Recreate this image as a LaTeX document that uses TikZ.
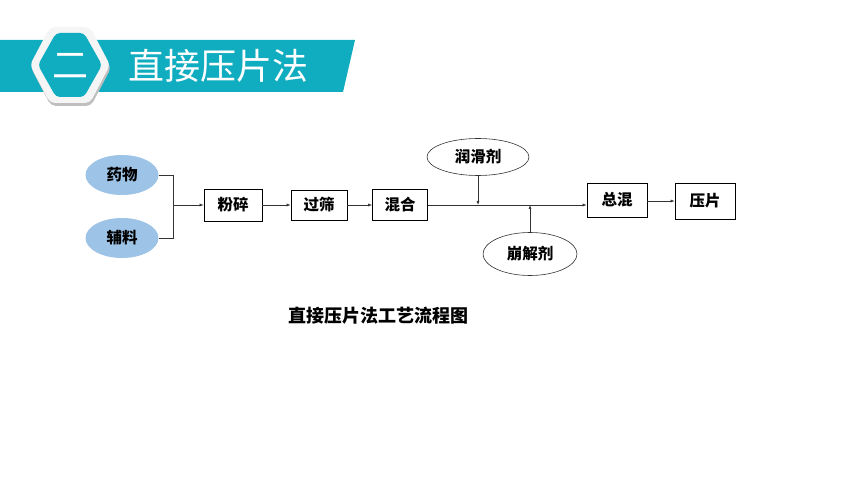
\documentclass[tikz,border=0pt]{standalone}
\usepackage{fontspec}
\usepackage{xcolor}
\usetikzlibrary{shapes.geometric,arrows.meta,positioning}
\newfontfamily\cjk{Noto Sans CJK SC}
\definecolor{teal1}{RGB}{16,172,192}
\definecolor{ovalblue}{RGB}{157,195,230}

\begin{document}
\begin{tikzpicture}[x=1pt,y=-1pt,
  box/.style={draw=black, line width=0.7pt, minimum width=58pt, minimum height=32pt, font=\cjk\bfseries\fontsize{15.5}{15.5}\selectfont},
  oval/.style={ellipse, fill=ovalblue, minimum width=73pt, minimum height=40pt, font=\cjk\bfseries\fontsize{15.5}{15.5}\selectfont},
  wov/.style={ellipse, draw=black!80, line width=0.6pt, fill=white, font=\cjk\bfseries\fontsize{15.5}{15.5}\selectfont},
  arr/.style={-{Latex[length=4pt,width=3pt]}, line width=0.6pt, draw=black!80}]
  \useasboundingbox (0,0) rectangle (860,484);
  \fill[white] (0,0) rectangle (860,484);

  % Header band and hexagon
  \fill[teal1] (0,40) -- (355,40) -- (343,92) -- (0,92) -- cycle;
  \fill[black!25, rounded corners=5pt] (31,68) -- (51,30) -- (91,30) -- (111,68) -- (91,106) -- (51,106) -- cycle;
  \fill[black!4, rounded corners=5pt] (30,65) -- (50,27) -- (90,27) -- (110,65) -- (90,103) -- (50,103) -- cycle;
  \fill[teal1, rounded corners=4pt] (38,65) -- (56,33) -- (84,33) -- (102,65) -- (84,97) -- (56,97) -- cycle;
  \node[text=white, font=\cjk\fontsize{36}{36}\selectfont] (num) at (70,66) {二};
  \node[text=white, font=\cjk\fontsize{36}{36}\selectfont, anchor=west] (title) at (125,66) {直接压片法};

  % Flow chart
  \node[oval] (drug) at (122,175) {药物};
  \node[oval] (excip) at (122,238) {辅料};
  \node[box] (crush) at (233,205) {粉碎};
  \node[box, minimum width=56pt, minimum height=30pt] (sieve) at (319,205) {过筛};
  \node[box, minimum width=55pt, minimum height=31pt] (mix) at (400,205) {混合};
  \node[box, minimum width=60pt, minimum height=34pt] (total) at (617,200) {总混};
  \node[box, minimum width=60pt, minimum height=36pt] (press) at (705,201) {压片};
  \node[wov, minimum width=102pt, minimum height=37pt] (lube) at (478,157) {润滑剂};
  \node[wov, minimum width=94pt, minimum height=43pt] (disint) at (530,254) {崩解剂};

  % Bracket joining the two inputs
  \coordinate (jn) at (173,205);
  \draw[line width=0.6pt, draw=black!80] (drug.east) -- (drug.east -| jn) -- (excip.east -| jn) -- (excip.east);
  \draw[arr] (jn) -- (crush.west);
  \draw[arr] (crush) -- (sieve);
  \draw[arr] (sieve) -- (mix);
  \draw[arr] (mix.east) -- (mix.east -| total.west);
  \draw[arr] (total.east |- press.west) -- (press.west);
  \draw[arr] (lube.south) -- (lube.south |- mix.east);
  \draw[arr] (disint.north) -- (disint.north |- mix.east);

  \node[font=\cjk\bfseries\fontsize{18}{18}\selectfont] (cap) at (378,316) {直接压片法工艺流程图};
\end{tikzpicture}
\end{document}
